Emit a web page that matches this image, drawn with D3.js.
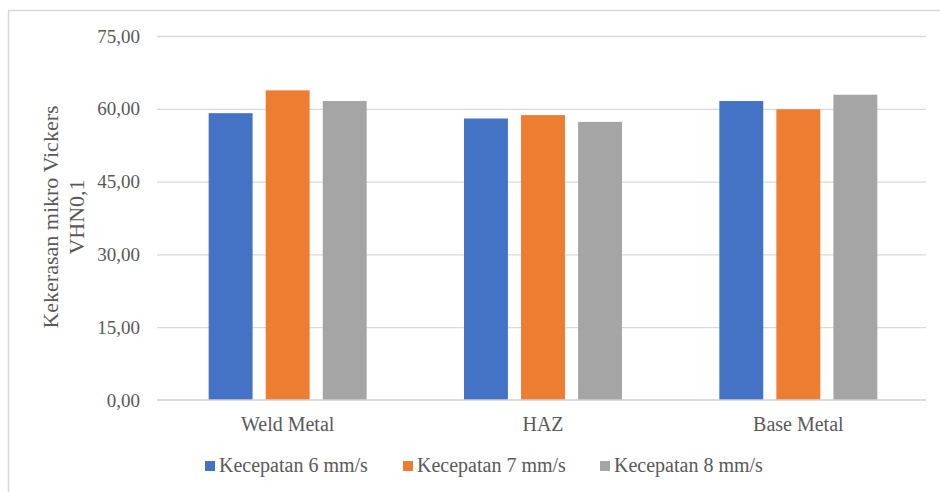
<!DOCTYPE html>
<html><head><meta charset="utf-8">
<script src="https://cdn.jsdelivr.net/npm/d3@7"></script>
<style>html,body{margin:0;padding:0;background:#fff;}</style>
</head><body>
<svg id="c" width="940" height="492"></svg>
<script>
const categories = ["Weld Metal", "HAZ", "Base Metal"];
const seriesNames = ["Kecepatan 6 mm/s", "Kecepatan 7 mm/s", "Kecepatan 8 mm/s"];
const speed6 = [59.1, 58.0, 61.6];
const speed7 = [63.8, 58.7, 59.9];
const speed8 = [61.6, 57.3, 62.9];
const yTicks = [0, 15, 30, 45, 60, 75];
const colors = ["#4472C4", "#ED7D31", "#A5A5A5"];
const series = [speed6, speed7, speed8];

const svg = d3.select("#c");
const font = "'Liberation Serif', 'Times New Roman', serif";
// outer frame
svg.append("path").attr("d", "M8.5,492 L8.5,10.5 L940,10.5").attr("fill","none").attr("stroke","#d9d9d9").attr("stroke-width",1.5);

const m = {left:160, right:926, top:36, bottom:400};
const x = d3.scaleBand().domain(categories).range([m.left, m.right]).paddingInner(0).paddingOuter(0);
const xs = d3.scaleBand().domain(d3.range(3)).range([0, 158]).paddingInner(0.23).paddingOuter(0);
const y = d3.scaleLinear().domain([0, 75]).range([m.bottom, m.top]);

const fmt = v => d3.format(".2f")(v).replace(".", ",");

// grid
svg.append("g").selectAll("line").data(yTicks.filter(t=>t>0)).join("line")
  .attr("x1", m.left-3).attr("x2", m.right).attr("y1", d=>y(d)+0.5).attr("y2", d=>y(d)+0.5)
  .attr("stroke", "#d9d9d9").attr("stroke-width", 1.3);

// y tick labels
svg.append("g").selectAll("text").data(yTicks).join("text")
  .attr("x", 140).attr("y", d=>y(d)).attr("dy","0.35em").attr("text-anchor","end")
  .attr("font-family", font).attr("font-size", 19).attr("fill", "#595959").text(fmt);

// bars
const groups = svg.append("g").selectAll("g").data(categories).join("g")
  .attr("transform", c => `translate(${x(c) + (x.bandwidth()-158)/2},0)`);
groups.selectAll("rect").data((c,i)=>series.map((s,k)=>({k, v:s[i]}))).join("rect")
  .attr("x", d=>xs(d.k)).attr("width", xs.bandwidth())
  .attr("y", d=>y(d.v)).attr("height", d=>y(0)-y(d.v)).attr("fill", d=>colors[d.k]);

// x axis line
svg.append("line").attr("x1", m.left-3).attr("x2", m.right).attr("y1", y(0)).attr("y2", y(0))
  .attr("stroke", "#d0d0d0").attr("stroke-width", 1.6);

// category labels
svg.append("g").selectAll("text").data(categories).join("text")
  .attr("x", c=>x(c)+x.bandwidth()/2).attr("y", 431).attr("text-anchor","middle")
  .attr("font-family", font).attr("font-size", 20).attr("fill", "#595959").text(d=>d);

// axis title
const tt = svg.append("text").attr("transform", "translate(0,217) rotate(-90)")
  .attr("text-anchor","middle").attr("font-family", font).attr("font-size", 22).attr("fill", "#595959");
tt.append("tspan").attr("x",0).attr("y",58).text("Kekerasan mikro Vickers");
tt.append("tspan").attr("x",0).attr("y",84).text("VHN0,1");

// legend
const legX = [205, 403, 600];
const lg = svg.append("g").selectAll("g").data(seriesNames).join("g")
  .attr("transform", (d,i)=>`translate(${legX[i]},0)`);
lg.append("rect").attr("x",0).attr("y",461).attr("width",10).attr("height",10).attr("fill",(d,i)=>colors[i]);
lg.append("text").attr("x",14).attr("y",472).attr("font-family", font).attr("font-size",20)
  .attr("fill","#595959").text(d=>d);
</script>
</body></html>
